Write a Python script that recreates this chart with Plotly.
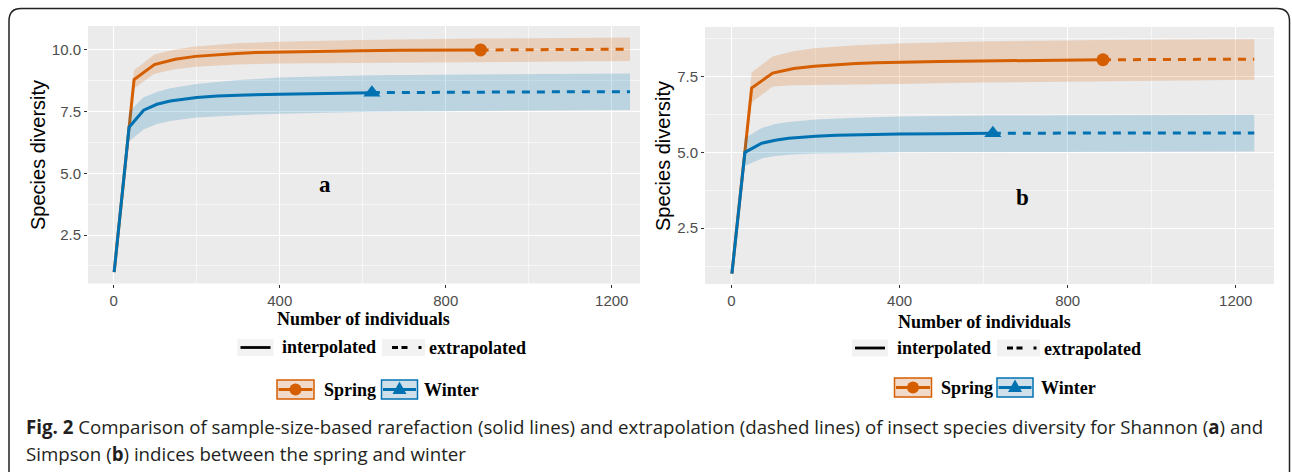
import plotly.graph_objects as go

W, H = 1292, 472
ORANGE = "#D55E00"
BLUE = "#0072B2"
ORANGE_BAND = "rgba(213,94,0,0.2)"
BLUE_BAND = "rgba(0,114,178,0.2)"

# ---------------- Panel a (Shannon) ----------------
a_spring_x = [1, 49, 98, 148, 197, 246, 296, 345, 395, 494, 592, 691, 790, 884]
a_spring_y = [1, 8.80, 9.41, 9.62, 9.74, 9.81, 9.86, 9.90, 9.92, 9.95, 9.97, 9.985, 9.995, 10.0]
a_spring_ext_x = [884, 950, 1050, 1150, 1244]
a_spring_ext_y = [10.0, 10.01, 10.02, 10.025, 10.03]
a_spring_ci_x = [1, 49, 98, 148, 197, 296, 395, 592, 884, 1244]
a_spring_lo = [1, 8.44, 9.04, 9.22, 9.32, 9.41, 9.45, 9.49, 9.52, 9.55]
a_spring_hi = [1, 9.18, 9.82, 10.02, 10.14, 10.27, 10.33, 10.40, 10.46, 10.50]

a_winter_x = [1, 37, 72, 104, 136, 168, 200, 250, 300, 400, 500, 622]
a_winter_y = [1, 6.87, 7.56, 7.80, 7.93, 8.01, 8.07, 8.13, 8.17, 8.21, 8.24, 8.27]
a_winter_ext_x = [622, 800, 1000, 1244]
a_winter_ext_y = [8.27, 8.29, 8.30, 8.31]
a_winter_ci_x = [1, 37, 72, 104, 136, 200, 300, 400, 622, 1244]
a_winter_lo = [1, 6.30, 6.78, 7.00, 7.12, 7.26, 7.36, 7.42, 7.50, 7.57]
a_winter_hi = [1, 7.50, 8.08, 8.30, 8.45, 8.62, 8.78, 8.88, 8.98, 9.05]

# ---------------- Panel b (Simpson) ----------------
b_spring_x = [1, 48, 98, 148, 197, 246, 296, 345, 395, 494, 592, 691, 790, 884]
b_spring_y = [1, 7.12, 7.61, 7.76, 7.84, 7.89, 7.93, 7.95, 7.97, 7.99, 8.01, 8.02, 8.03, 8.05]
b_spring_ext_x = [884, 1000, 1100, 1244]
b_spring_ext_y = [8.05, 8.06, 8.06, 8.07]
b_spring_ci_x = [1, 48, 98, 148, 197, 296, 395, 592, 884, 1244]
b_spring_lo = [1, 6.64, 7.17, 7.21, 7.23, 7.24, 7.25, 7.30, 7.35, 7.39]
b_spring_hi = [1, 7.63, 8.16, 8.33, 8.43, 8.53, 8.59, 8.65, 8.70, 8.73]

b_winter_x = [1, 32, 72, 104, 136, 168, 200, 250, 300, 400, 500, 622]
b_winter_y = [1, 5.00, 5.30, 5.40, 5.46, 5.50, 5.53, 5.56, 5.58, 5.60, 5.61, 5.63]
b_winter_ext_x = [622, 800, 1000, 1244]
b_winter_ext_y = [5.63, 5.63, 5.63, 5.64]
b_winter_ci_x = [1, 32, 72, 104, 136, 200, 300, 400, 622, 1244]
b_winter_lo = [1, 4.55, 4.80, 4.88, 4.92, 4.96, 4.98, 5.00, 5.02, 5.03]
b_winter_hi = [1, 5.47, 5.80, 5.93, 6.00, 6.08, 6.14, 6.18, 6.21, 6.24]

x_ticks = [0, 400, 800, 1200]
x_minor = [200, 600, 1000]
a_y_ticks = [2.5, 5.0, 7.5, 10.0]
a_y_labels = ["2.5", "5.0", "7.5", "10.0"]
b_y_ticks = [2.5, 5.0, 7.5]
b_y_labels = ["2.5", "5.0", "7.5"]
y_minor = [1.25, 3.75, 6.25, 8.75]

caption1 = ("<b>Fig. 2</b> Comparison of sample-size-based rarefaction (solid lines) and extrapolation "
            "(dashed lines) of insect species diversity for Shannon (<b>a</b>) and")
caption2 = "Simpson (<b>b</b>) indices between the spring and winter"


def px(x):
    return x / W


def py(y):
    return 1 - y / H


fig = go.Figure()


def add_series(xa, ya, ci_x, lo, hi, ix, iy, ex, ey, color, band, symbol, msize):
    fig.add_trace(go.Scatter(x=ci_x + ci_x[::-1], y=hi + lo[::-1], fill="toself",
                             fillcolor=band, line=dict(width=0), mode="lines",
                             hoverinfo="skip", showlegend=False, xaxis=xa, yaxis=ya))
    fig.add_trace(go.Scatter(x=ex, y=ey, mode="lines",
                             line=dict(color=color, width=3, dash="8px,7px"),
                             showlegend=False, xaxis=xa, yaxis=ya))
    fig.add_trace(go.Scatter(x=ix, y=iy, mode="lines",
                             line=dict(color=color, width=3),
                             showlegend=False, xaxis=xa, yaxis=ya))
    fig.add_trace(go.Scatter(x=[ix[-1]], y=[iy[-1]], mode="markers",
                             marker=dict(color=color, size=msize, symbol=symbol),
                             showlegend=False, xaxis=xa, yaxis=ya))


add_series("x", "y", a_spring_ci_x, a_spring_lo, a_spring_hi, a_spring_x, a_spring_y,
           a_spring_ext_x, a_spring_ext_y, ORANGE, ORANGE_BAND, "circle", 13)
add_series("x", "y", a_winter_ci_x, a_winter_lo, a_winter_hi, a_winter_x, a_winter_y,
           a_winter_ext_x, a_winter_ext_y, BLUE, BLUE_BAND, "triangle-up", 15)
add_series("x2", "y2", b_spring_ci_x, b_spring_lo, b_spring_hi, b_spring_x, b_spring_y,
           b_spring_ext_x, b_spring_ext_y, ORANGE, ORANGE_BAND, "circle", 13)
add_series("x2", "y2", b_winter_ci_x, b_winter_lo, b_winter_hi, b_winter_x, b_winter_y,
           b_winter_ext_x, b_winter_ext_y, BLUE, BLUE_BAND, "triangle-up", 15)

tickfont = dict(family="Liberation Sans, Arial, sans-serif", size=15, color="#4D4D4D")
common = dict(showline=False, zeroline=False, ticks="outside", ticklen=3, tickwidth=1,
              tickcolor="#333333", showgrid=True, gridcolor="#FFFFFF", gridwidth=1.3,
              tickfont=tickfont, fixedrange=True)


def minor(vals):
    return dict(tickvals=vals, showgrid=True, gridcolor="#F6F6F6", gridwidth=0.8, ticklen=0)


fig.update_layout(
    width=W, height=H, margin=dict(l=0, r=0, t=0, b=0),
    paper_bgcolor="white", plot_bgcolor="#EBEBEB", showlegend=False,
    xaxis=dict(domain=[px(88), px(640)], range=[-62, 1268], tickvals=x_ticks,
               minor=minor(x_minor), anchor="y", **common),
    yaxis=dict(domain=[py(283.5), py(26)], range=[0.54, 10.97], tickvals=a_y_ticks,
               ticktext=a_y_labels, minor=minor(y_minor), anchor="x", **common),
    xaxis2=dict(domain=[px(705), px(1274)], range=[-63, 1291], tickvals=x_ticks,
                minor=minor(x_minor), anchor="y2", **common),
    yaxis2=dict(domain=[py(284), py(27)], range=[0.66, 9.13], tickvals=b_y_ticks,
                ticktext=b_y_labels, minor=minor(y_minor), anchor="x2", **common),
)

SERIF = "Liberation Serif, Times New Roman, serif"
SANS = "Liberation Sans, Arial, sans-serif"
CAP = "Open Sans, sans-serif"

ann = []


def text(x, y, s, size, family, color="black", xanchor="center", angle=0):
    ann.append(dict(x=px(x), y=py(y), xref="paper", yref="paper", text=s, showarrow=False,
                    xanchor=xanchor, yanchor="middle", textangle=angle,
                    font=dict(family=family, size=size, color=color)))


# axis titles
text(38, 155, "Species diversity", 20, SANS, angle=-90)
text(663, 156, "Species diversity", 20, SANS, angle=-90)
text(363, 319, "<b>Number of individuals</b>", 18, SERIF)
text(984, 322, "<b>Number of individuals</b>", 18, SERIF)
# panel letters
text(325, 185, "<b>a</b>", 23, SERIF)
text(1022, 197, "<b>b</b>", 23, SERIF)

shapes = []


def rect(x0, y0, x1, y1, fill, line=None, lw=0):
    shapes.append(dict(type="rect", xref="paper", yref="paper", x0=px(x0), x1=px(x1),
                       y0=py(y0), y1=py(y1), fillcolor=fill,
                       line=dict(color=line or fill, width=lw)))


def hline(x0, x1, y, color, lw, dash="solid"):
    shapes.append(dict(type="line", xref="paper", yref="paper", x0=px(x0), x1=px(x1),
                       y0=py(y), y1=py(y), line=dict(color=color, width=lw, dash=dash)))


def legend_lines(xs, y, ty):
    b1, t1, b2, t2 = xs
    rect(b1, y - 8.5, b1 + 36, y + 8.5, "#F2F2F2")
    hline(b1 + 3, b1 + 33, y, "black", 2.8)
    text(t1, ty, "<b>interpolated</b>", 18, SERIF, xanchor="left")
    rect(b2, y - 8.5, b2 + 43, y + 8.5, "#F2F2F2")
    hline(b2 + 10, b2 + 39.5, y, "black", 2.8, dash="6px,3.5px,6px,11px")
    text(t2, ty + 1, "<b>extrapolated</b>", 18, SERIF, xanchor="left")


def legend_groups(xs, y):
    s_box, s_text, w_box, w_text = xs
    rect(s_box, y - 9.5, s_box + 37, y + 9.5, "#F2DACA", ORANGE, 1.5)
    hline(s_box + 1.5, s_box + 35.5, y, ORANGE, 2.8)
    cx = s_box + 18.5
    shapes.append(dict(type="circle", xref="paper", yref="paper", x0=px(cx - 6), x1=px(cx + 6),
                       y0=py(y - 6), y1=py(y + 6), fillcolor=ORANGE, line=dict(color=ORANGE, width=0)))
    text(s_text, y, "<b>Spring</b>", 18, SERIF, xanchor="left")
    rect(w_box, y - 9.5, w_box + 36, y + 9.5, "#CFE0EA", BLUE, 1.5)
    hline(w_box + 1.5, w_box + 34.5, y, BLUE, 2.8)
    cx = w_box + 18
    path = (f"M {px(cx - 7)} {py(y + 4.5)} L {px(cx + 7)} {py(y + 4.5)} "
            f"L {px(cx)} {py(y - 8)} Z")
    shapes.append(dict(type="path", xref="paper", yref="paper", path=path,
                       fillcolor=BLUE, line=dict(color=BLUE, width=0)))
    text(w_text, y, "<b>Winter</b>", 18, SERIF, xanchor="left")


legend_lines((237.5, 280, 382, 427), 347.5, 346.5)
legend_lines((852, 895, 997, 1041.5), 348, 347.5)
legend_groups((277, 321.5, 381.5, 421.5), 389.5)
legend_groups((894.5, 939, 997, 1039), 387.5)

# caption
text(24, 426.5, caption1, 18.7, CAP, color="#231F20", xanchor="left")
text(24, 453, caption2, 18.7, CAP, color="#231F20", xanchor="left")

# frame
frame = (f"M {px(9)} {py(472)} L {px(9)} {py(21)} Q {px(9)} {py(8.5)} {px(21)} {py(8.5)} "
         f"L {px(1277)} {py(8.5)} Q {px(1289.5)} {py(8.5)} {px(1289.5)} {py(21)} "
         f"L {px(1289.5)} {py(472)}")
shapes.append(dict(type="path", xref="paper", yref="paper", path=frame,
                   line=dict(color="#222222", width=1.5)))

fig.update_layout(annotations=ann, shapes=shapes)
fig.write_html("out.html", config={"displayModeBar": False},
               post_script="document.body.style.margin='0';document.body.style.overflow='hidden';")
